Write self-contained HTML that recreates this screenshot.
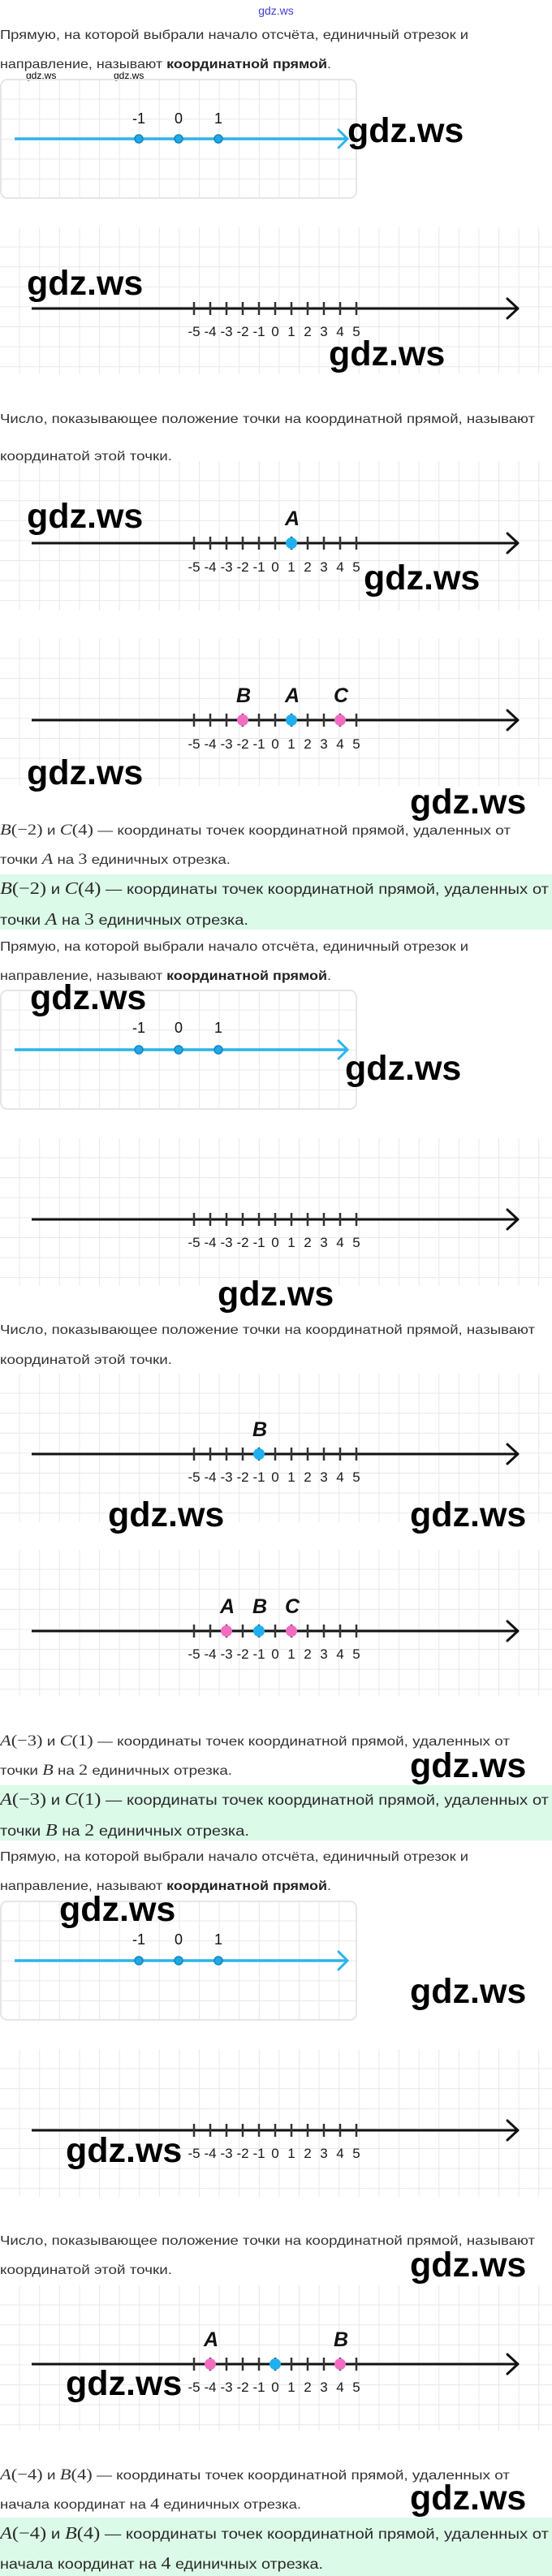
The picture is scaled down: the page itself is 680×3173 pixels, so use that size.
<!DOCTYPE html>
<html><head><meta charset="utf-8">
<style>
html,body{margin:0;padding:0;background:#fff;}
svg{display:block;}
.t{font-family:"Liberation Sans",sans-serif;font-size:16px;fill:#333;}
.g{font-family:"Liberation Sans",sans-serif;font-size:17.5px;fill:#2a2a2a;}
.m{font-family:"Liberation Serif",serif;font-style:italic;}
.n{font-family:"Liberation Serif",serif;}
.wm{font-family:"Liberation Sans",sans-serif;font-size:43px;font-weight:bold;fill:#000;}
.lb{font-family:"Liberation Sans",sans-serif;font-size:17px;fill:#1a1a1a;text-anchor:middle;}
.lt{font-family:"Liberation Sans",sans-serif;font-size:25px;font-weight:bold;font-style:italic;fill:#111;text-anchor:middle;}
.sl{font-family:"Liberation Sans",sans-serif;font-size:18px;fill:#111;text-anchor:middle;}
</style></head><body>
<svg width="680" height="3173" viewBox="0 0 680 3173" xmlns="http://www.w3.org/2000/svg">
<defs>
<pattern id="grid" width="24.6" height="24.6" patternUnits="userSpaceOnUse">
<path d="M24.6 0V24.6M0 24.6H24.6" stroke="#e8e8e8" stroke-width="2" fill="none"/>
</pattern>
<g id="axis" stroke="#111" stroke-width="3" fill="none">
<path d="M39 0H637"/>
<path d="M625 -12L638 0L625 12" stroke-linecap="round" stroke-linejoin="round"/>
<path stroke="#333" stroke-width="2.5" d="M239 -8v16M259 -8v16M279 -8v16M299 -8v16M319 -8v16M339 -8v16M359 -8v16M379 -8v16M399 -8v16M419 -8v16M439 -8v16"/>
</g>
<g id="small">
<rect x="1" y="0" width="438" height="146" rx="8" fill="url(#grid)" stroke="#e6e6e6" stroke-width="2"/>
<path d="M18 73H426" stroke="#2db4ea" stroke-width="3.5"/>
<path d="M417 62L428 73L417 84" stroke="#2db4ea" stroke-width="3" fill="none" stroke-linecap="round"/>
<circle cx="171" cy="73" r="5" fill="#1fa8e4" stroke="#1585c0" stroke-width="1.5"/>
<circle cx="220" cy="73" r="5" fill="#1fa8e4" stroke="#1585c0" stroke-width="1.5"/>
<circle cx="269" cy="73" r="5" fill="#1fa8e4" stroke="#1585c0" stroke-width="1.5"/>
</g>
</defs>

<text x="340" y="18" text-anchor="middle" font-family="Liberation Sans,sans-serif" font-size="14" fill="#4040d0">gdz.ws</text>
<text class="t" x="0" y="48" textLength="577" lengthAdjust="spacingAndGlyphs">Прямую, на которой выбрали начало отсчёта, единичный отрезок и</text>
<text class="t" x="0" y="84" textLength="408" lengthAdjust="spacingAndGlyphs">направление, называют <tspan font-weight="bold" fill="#222">координатной прямой</tspan>.</text>
<text x="32" y="97" font-family="Liberation Sans,sans-serif" font-size="12" fill="#000">gdz.ws</text>
<text x="140" y="97" font-family="Liberation Sans,sans-serif" font-size="12" fill="#000">gdz.ws</text>

<g transform="translate(0,98)"><use href="#small"/>
<text class="sl" x="171" y="54">-1</text><text class="sl" x="220" y="54">0</text><text class="sl" x="269" y="54">1</text></g>

<g transform="translate(0,280)"><rect width="680" height="181" fill="url(#grid)"/></g>
<use href="#axis" y="380"/>
<g transform="translate(0,414)"><text class="lb" x="239">-5</text><text class="lb" x="259">-4</text><text class="lb" x="279">-3</text><text class="lb" x="299">-2</text><text class="lb" x="319">-1</text><text class="lb" x="339">0</text><text class="lb" x="359">1</text><text class="lb" x="379">2</text><text class="lb" x="399">3</text><text class="lb" x="419">4</text><text class="lb" x="439">5</text></g>

<text class="t" x="0" y="521" textLength="659" lengthAdjust="spacingAndGlyphs">Число, показывающее положение точки на координатной прямой, называют</text>
<text class="t" x="0" y="567" textLength="212" lengthAdjust="spacingAndGlyphs">координатой этой точки.</text>

<g transform="translate(0,568)"><rect width="680" height="184" fill="url(#grid)"/></g>
<use href="#axis" y="669"/>
<circle cx="359" cy="669" r="7" fill="#1fb0f0"/>
<text class="lt" x="360" y="647">A</text>
<g transform="translate(0,704)"><text class="lb" x="239">-5</text><text class="lb" x="259">-4</text><text class="lb" x="279">-3</text><text class="lb" x="299">-2</text><text class="lb" x="319">-1</text><text class="lb" x="339">0</text><text class="lb" x="359">1</text><text class="lb" x="379">2</text><text class="lb" x="399">3</text><text class="lb" x="419">4</text><text class="lb" x="439">5</text></g>

<g transform="translate(0,787)"><rect width="680" height="181" fill="url(#grid)"/></g>
<use href="#axis" y="887"/>
<circle cx="299" cy="887" r="7" fill="#f26cc2"/>
<circle cx="359" cy="887" r="7" fill="#1fb0f0"/>
<circle cx="419" cy="887" r="7" fill="#f26cc2"/>
<text class="lt" x="300" y="865">B</text><text class="lt" x="360" y="865">A</text><text class="lt" x="420" y="865">C</text>
<g transform="translate(0,922)"><text class="lb" x="239">-5</text><text class="lb" x="259">-4</text><text class="lb" x="279">-3</text><text class="lb" x="299">-2</text><text class="lb" x="319">-1</text><text class="lb" x="339">0</text><text class="lb" x="359">1</text><text class="lb" x="379">2</text><text class="lb" x="399">3</text><text class="lb" x="419">4</text><text class="lb" x="439">5</text></g>

<text class="t" x="0" y="1028" textLength="629" lengthAdjust="spacingAndGlyphs"><tspan class="m" font-size="19">B</tspan><tspan class="n" font-size="19">(−2)</tspan> и <tspan class="m" font-size="19">C</tspan><tspan class="n" font-size="19">(4)</tspan> — координаты точек координатной прямой, удаленных от</text>
<text class="t" x="0" y="1064" textLength="284" lengthAdjust="spacingAndGlyphs">точки <tspan class="m" font-size="19">A</tspan> на <tspan class="n" font-size="19">3</tspan> единичных отрезка.</text>
<rect x="0" y="1077" width="680" height="68" fill="#dcfae8"/>
<text class="g" x="0" y="1101" textLength="676" lengthAdjust="spacingAndGlyphs"><tspan class="m" font-size="21">B</tspan><tspan class="n" font-size="21">(−2)</tspan> и <tspan class="m" font-size="21">C</tspan><tspan class="n" font-size="21">(4)</tspan> — координаты точек координатной прямой, удаленных от</text>
<text class="g" x="0" y="1139" textLength="306" lengthAdjust="spacingAndGlyphs">точки <tspan class="m" font-size="21">A</tspan> на <tspan class="n" font-size="21">3</tspan> единичных отрезка.</text>

<text class="t" x="0" y="1171" textLength="577" lengthAdjust="spacingAndGlyphs">Прямую, на которой выбрали начало отсчёта, единичный отрезок и</text>
<text class="t" x="0" y="1207" textLength="408" lengthAdjust="spacingAndGlyphs">направление, называют <tspan font-weight="bold" fill="#222">координатной прямой</tspan>.</text>

<g transform="translate(0,1220)"><use href="#small"/>
<text class="sl" x="171" y="52">-1</text><text class="sl" x="220" y="52">0</text><text class="sl" x="269" y="52">1</text></g>

<g transform="translate(0,1402)"><rect width="680" height="182" fill="url(#grid)"/></g>
<use href="#axis" y="1502"/>
<g transform="translate(0,1536)"><text class="lb" x="239">-5</text><text class="lb" x="259">-4</text><text class="lb" x="279">-3</text><text class="lb" x="299">-2</text><text class="lb" x="319">-1</text><text class="lb" x="339">0</text><text class="lb" x="359">1</text><text class="lb" x="379">2</text><text class="lb" x="399">3</text><text class="lb" x="419">4</text><text class="lb" x="439">5</text></g>

<text class="t" x="0" y="1643" textLength="659" lengthAdjust="spacingAndGlyphs">Число, показывающее положение точки на координатной прямой, называют</text>
<text class="t" x="0" y="1680" textLength="212" lengthAdjust="spacingAndGlyphs">координатой этой точки.</text>

<g transform="translate(0,1692)"><rect width="680" height="183" fill="url(#grid)"/></g>
<use href="#axis" y="1791"/>
<circle cx="319" cy="1791" r="7" fill="#1fb0f0"/>
<text class="lt" x="320" y="1769">B</text>
<g transform="translate(0,1825)"><text class="lb" x="239">-5</text><text class="lb" x="259">-4</text><text class="lb" x="279">-3</text><text class="lb" x="299">-2</text><text class="lb" x="319">-1</text><text class="lb" x="339">0</text><text class="lb" x="359">1</text><text class="lb" x="379">2</text><text class="lb" x="399">3</text><text class="lb" x="419">4</text><text class="lb" x="439">5</text></g>

<g transform="translate(0,1909)"><rect width="680" height="180" fill="url(#grid)"/></g>
<use href="#axis" y="2009"/>
<circle cx="279" cy="2009" r="7" fill="#f26cc2"/>
<circle cx="319" cy="2009" r="7" fill="#1fb0f0"/>
<circle cx="359" cy="2009" r="7" fill="#f26cc2"/>
<text class="lt" x="280" y="1987">A</text><text class="lt" x="320" y="1987">B</text><text class="lt" x="360" y="1987">C</text>
<g transform="translate(0,2043)"><text class="lb" x="239">-5</text><text class="lb" x="259">-4</text><text class="lb" x="279">-3</text><text class="lb" x="299">-2</text><text class="lb" x="319">-1</text><text class="lb" x="339">0</text><text class="lb" x="359">1</text><text class="lb" x="379">2</text><text class="lb" x="399">3</text><text class="lb" x="419">4</text><text class="lb" x="439">5</text></g>

<text class="t" x="0" y="2150" textLength="628" lengthAdjust="spacingAndGlyphs"><tspan class="m" font-size="19">A</tspan><tspan class="n" font-size="19">(−3)</tspan> и <tspan class="m" font-size="19">C</tspan><tspan class="n" font-size="19">(1)</tspan> — координаты точек координатной прямой, удаленных от</text>
<text class="t" x="0" y="2186" textLength="286" lengthAdjust="spacingAndGlyphs">точки <tspan class="m" font-size="19">B</tspan> на <tspan class="n" font-size="19">2</tspan> единичных отрезка.</text>
<rect x="0" y="2199" width="680" height="68" fill="#dcfae8"/>
<text class="g" x="0" y="2223" textLength="676" lengthAdjust="spacingAndGlyphs"><tspan class="m" font-size="21">A</tspan><tspan class="n" font-size="21">(−3)</tspan> и <tspan class="m" font-size="21">C</tspan><tspan class="n" font-size="21">(1)</tspan> — координаты точек координатной прямой, удаленных от</text>
<text class="g" x="0" y="2261" textLength="307" lengthAdjust="spacingAndGlyphs">точки <tspan class="m" font-size="21">B</tspan> на <tspan class="n" font-size="21">2</tspan> единичных отрезка.</text>

<text class="t" x="0" y="2292" textLength="577" lengthAdjust="spacingAndGlyphs">Прямую, на которой выбрали начало отсчёта, единичный отрезок и</text>
<text class="t" x="0" y="2328" textLength="408" lengthAdjust="spacingAndGlyphs">направление, называют <tspan font-weight="bold" fill="#222">координатной прямой</tspan>.</text>

<g transform="translate(0,2342)"><use href="#small"/>
<text class="sl" x="171" y="53">-1</text><text class="sl" x="220" y="53">0</text><text class="sl" x="269" y="53">1</text></g>

<g transform="translate(0,2524)"><rect width="680" height="182" fill="url(#grid)"/></g>
<use href="#axis" y="2624"/>
<g transform="translate(0,2658)"><text class="lb" x="239">-5</text><text class="lb" x="259">-4</text><text class="lb" x="279">-3</text><text class="lb" x="299">-2</text><text class="lb" x="319">-1</text><text class="lb" x="339">0</text><text class="lb" x="359">1</text><text class="lb" x="379">2</text><text class="lb" x="399">3</text><text class="lb" x="419">4</text><text class="lb" x="439">5</text></g>

<text class="t" x="0" y="2765" textLength="659" lengthAdjust="spacingAndGlyphs">Число, показывающее положение точки на координатной прямой, называют</text>
<text class="t" x="0" y="2801" textLength="212" lengthAdjust="spacingAndGlyphs">координатой этой точки.</text>

<g transform="translate(0,2815)"><rect width="680" height="179" fill="url(#grid)"/></g>
<use href="#axis" y="2912"/>
<circle cx="259" cy="2912" r="7" fill="#f26cc2"/>
<circle cx="339" cy="2912" r="7" fill="#1fb0f0"/>
<circle cx="419" cy="2912" r="7" fill="#f26cc2"/>
<text class="lt" x="260" y="2890">A</text><text class="lt" x="420" y="2890">B</text>
<g transform="translate(0,2946)"><text class="lb" x="239">-5</text><text class="lb" x="259">-4</text><text class="lb" x="279">-3</text><text class="lb" x="299">-2</text><text class="lb" x="319">-1</text><text class="lb" x="339">0</text><text class="lb" x="359">1</text><text class="lb" x="379">2</text><text class="lb" x="399">3</text><text class="lb" x="419">4</text><text class="lb" x="439">5</text></g>

<text class="t" x="0" y="3054" textLength="628" lengthAdjust="spacingAndGlyphs"><tspan class="m" font-size="19">A</tspan><tspan class="n" font-size="19">(−4)</tspan> и <tspan class="m" font-size="19">B</tspan><tspan class="n" font-size="19">(4)</tspan> — координаты точек координатной прямой, удаленных от</text>
<text class="t" x="0" y="3090" textLength="371" lengthAdjust="spacingAndGlyphs">начала координат на <tspan class="n" font-size="19">4</tspan> единичных отрезка.</text>
<rect x="0" y="3101" width="680" height="72" fill="#dcfae8"/>
<text class="g" x="0" y="3127" textLength="676" lengthAdjust="spacingAndGlyphs"><tspan class="m" font-size="21">A</tspan><tspan class="n" font-size="21">(−4)</tspan> и <tspan class="m" font-size="21">B</tspan><tspan class="n" font-size="21">(4)</tspan> — координаты точек координатной прямой, удаленных от</text>
<text class="g" x="0" y="3164" textLength="398" lengthAdjust="spacingAndGlyphs">начала координат на <tspan class="n" font-size="21">4</tspan> единичных отрезка.</text>

<text class="wm" x="428" y="175">gdz.ws</text>
<text class="wm" x="33" y="363">gdz.ws</text>
<text class="wm" x="405" y="450">gdz.ws</text>
<text class="wm" x="33" y="650">gdz.ws</text>
<text class="wm" x="448" y="726">gdz.ws</text>
<text class="wm" x="33" y="966">gdz.ws</text>
<text class="wm" x="505" y="1002">gdz.ws</text>
<text class="wm" x="37" y="1243">gdz.ws</text>
<text class="wm" x="425" y="1330">gdz.ws</text>
<text class="wm" x="268" y="1608">gdz.ws</text>
<text class="wm" x="133" y="1880">gdz.ws</text>
<text class="wm" x="505" y="1880">gdz.ws</text>
<text class="wm" x="505" y="2189">gdz.ws</text>
<text class="wm" x="73" y="2366">gdz.ws</text>
<text class="wm" x="505" y="2467">gdz.ws</text>
<text class="wm" x="81" y="2663">gdz.ws</text>
<text class="wm" x="505" y="2804">gdz.ws</text>
<text class="wm" x="81" y="2950">gdz.ws</text>
<text class="wm" x="505" y="3091">gdz.ws</text>
</svg>
</body></html>
